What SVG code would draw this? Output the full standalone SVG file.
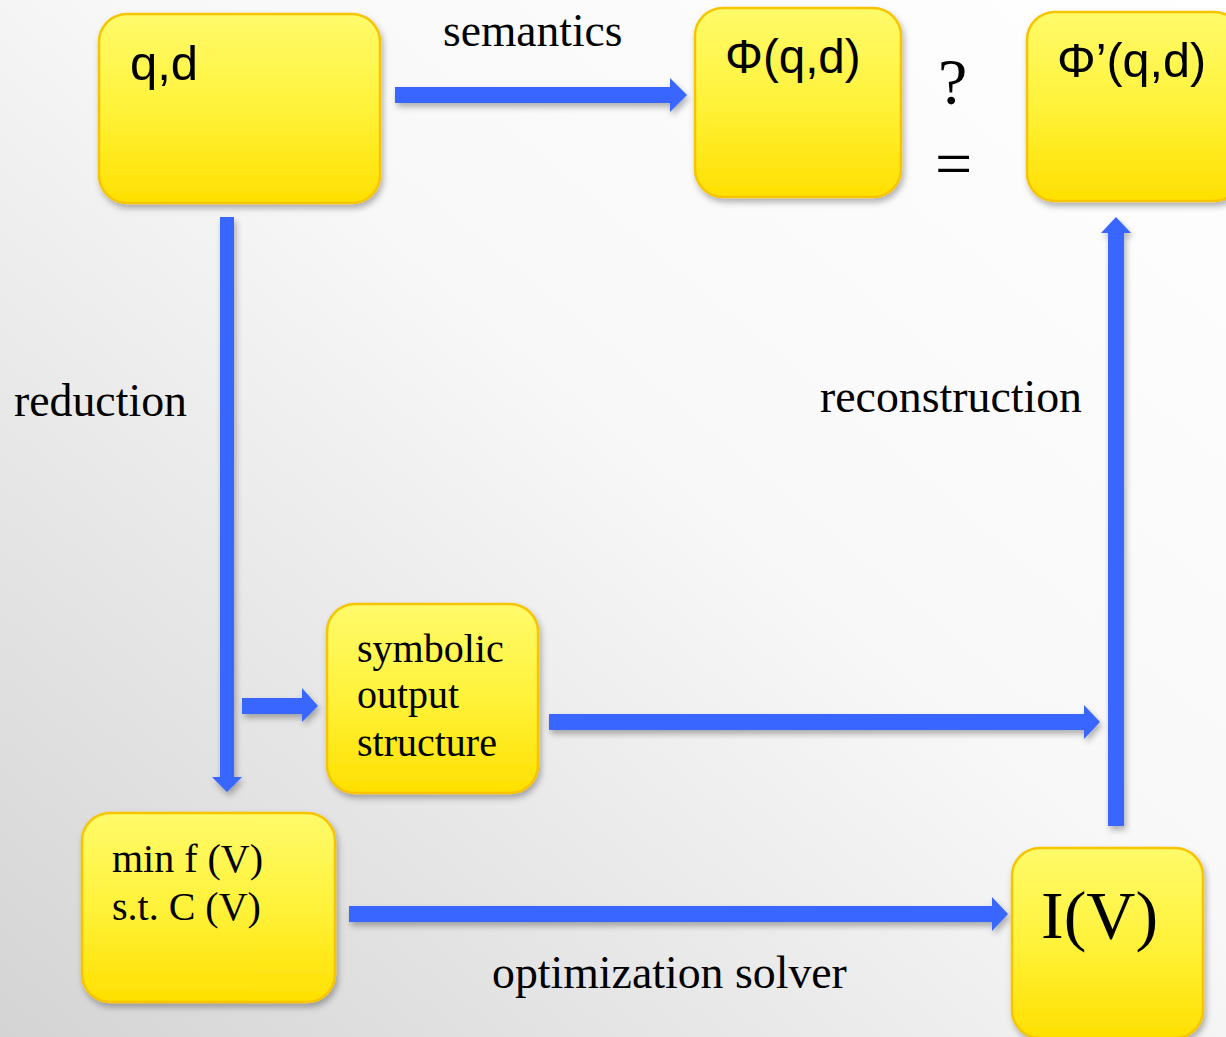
<svg xmlns="http://www.w3.org/2000/svg" width="1226" height="1037" viewBox="0 0 1226 1037">
<defs>
<linearGradient id="bg" x1="1" y1="0" x2="0" y2="1">
<stop offset="0" stop-color="#ffffff"/>
<stop offset="0.45" stop-color="#f8f8f8"/>
<stop offset="1" stop-color="#d4d4d4"/>
</linearGradient>
<linearGradient id="box" x1="0" y1="0" x2="0" y2="1">
<stop offset="0" stop-color="#fffb6a"/>
<stop offset="0.5" stop-color="#fff23a"/>
<stop offset="1" stop-color="#ffe000"/>
</linearGradient>
<filter id="sh" x="-10%" y="-10%" width="125%" height="130%">
<feDropShadow dx="2" dy="4" stdDeviation="3" flood-color="#000" flood-opacity="0.3"/>
</filter>
</defs>
<style>
.box{fill:url(#box);stroke:#f7c400;stroke-width:2.5;filter:url(#sh)}
.arr{fill:#3766ff;filter:url(#sh)}
.sans{font-family:"Liberation Sans",Arial,sans-serif;fill:#000}
.serif{font-family:"Liberation Serif","Times New Roman",serif;fill:#000}
</style>
<rect width="1226" height="1037" fill="url(#bg)"/>

<g id="connectors">
<polygon class="arr" points="395,87 670,87 670,78 687,95 670,112 670,103 395,103"/>
<polygon class="arr" points="220,217 234,217 234,777 242,777 227,792 212,777 220,777"/>
<polygon class="arr" points="242,698 302,698 302,688 318,706 302,722 302,714 242,714"/>
<polygon class="arr" points="549,714 1084,714 1084,705 1100,722 1084,739 1084,730 549,730"/>
<polygon class="arr" points="349,906 992,906 992,897 1008,914 992,931 992,922 349,922"/>
<polygon class="arr" points="1108,826 1108,233 1101,233 1116,217 1131,233 1124,233 1124,826"/>
</g>

<g id="labels">
<text class="serif" x="443" y="46" font-size="45.5">semantics</text>
<text class="serif" x="14" y="416" font-size="45.8">reduction</text>
<text class="serif" x="820" y="412" font-size="45.8">reconstruction</text>
<text class="serif" x="492" y="988" font-size="45.8">optimization solver</text>
<text class="serif" x="938" y="104" font-size="66">?</text>
<text class="serif" x="935" y="186" font-size="66">=</text>
</g>

<g id="node-qd">
<rect class="box" x="99" y="14" width="281" height="189" rx="28"/>
<text class="sans" x="130" y="80" font-size="49">q,d</text>
</g>

<g id="node-phi">
<rect class="box" x="695" y="8" width="206" height="189" rx="28"/>
<text class="sans" x="725" y="73" font-size="47.5">Φ(q,d)</text>
</g>

<g id="node-phiprime">
<rect class="box" x="1027" y="12" width="215" height="189" rx="28"/>
<text class="sans" x="1057" y="77" font-size="48.5">Φ’(q,d)</text>
</g>

<g id="node-symbolic">
<rect class="box" x="327" y="604" width="211" height="189" rx="28"/>
<text class="serif" x="357" y="662" font-size="40">symbolic</text>
<text class="serif" x="357" y="708" font-size="40">output</text>
<text class="serif" x="357" y="756" font-size="40">structure</text>
</g>

<g id="node-min">
<rect class="box" x="82" y="813" width="253" height="189" rx="28"/>
<text class="serif" x="112" y="872" font-size="40">min f (V)</text>
<text class="serif" x="112" y="920" font-size="40">s.t. C (V)</text>
</g>

<g id="node-IV">
<rect class="box" x="1012" y="848" width="191" height="190" rx="28"/>
<text class="serif" x="1041" y="938" font-size="68">I(V)</text>
</g>
</svg>
